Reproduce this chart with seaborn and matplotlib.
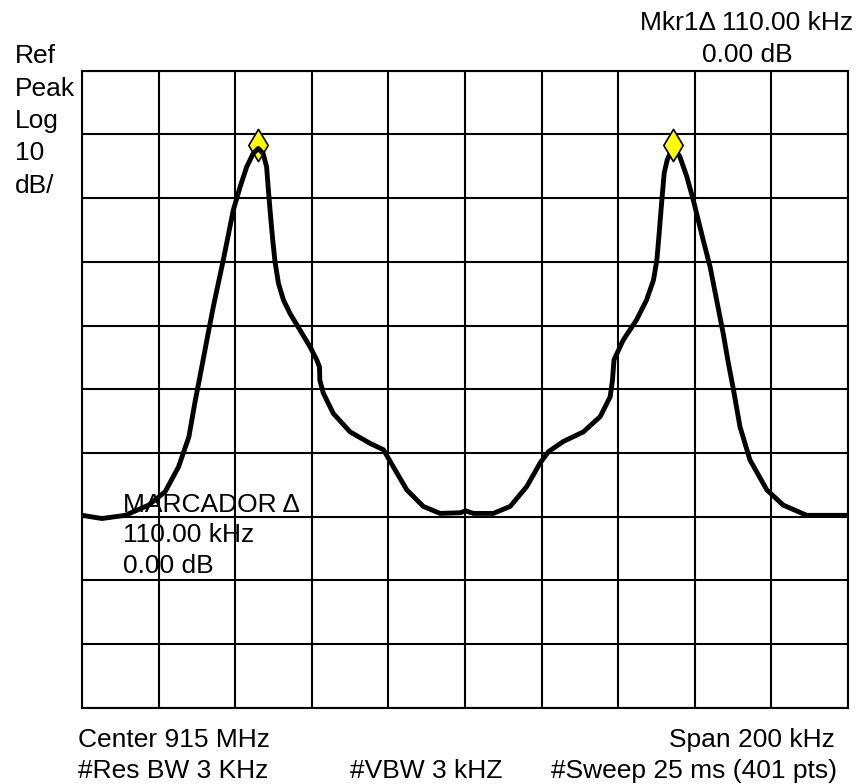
import matplotlib
matplotlib.use("Agg")
import matplotlib.pyplot as plt
import seaborn as sns
import pandas as pd

# trace: frequency offset from center (kHz) and level (dB)
freq_khz = [-100.0, -94.8, -88.7, -82.6, -78.3, -74.8, -72.1, -70.4, -69.2, -67.4,
            -65.7, -63.1, -60.5, -58.7, -57.0, -55.3, -54.0, -52.7, -51.8, -51.4,
            -50.9, -50.2, -49.6, -48.7, -47.4, -45.7, -43.1, -40.5, -38.7, -38.0,
            -37.9, -37.0, -34.4, -30.0, -24.8, -21.3, -18.7, -15.2, -10.9, -6.5,
            -1.3, 0.2, 2.2, 7.4, 11.8, 16.1, 19.6, 21.8, 25.7, 30.9,
            35.3, 37.9, 38.5, 38.9, 41.3, 44.8, 47.4, 49.2, 50.1, 50.7,
            51.4, 52.0, 52.8, 54.4, 56.1, 57.9, 59.6, 62.2, 64.0, 65.7,
            67.4, 68.7, 70.1, 71.8, 74.4, 78.8, 83.1, 89.2, 100.0]
level_db = [-69.8, -70.3, -69.8, -68.2, -66.1, -62.2, -57.5, -51.7, -48.0, -42.3,
            -37.0, -29.7, -21.9, -18.2, -15.1, -13.0, -12.2, -13.0, -15.1, -18.2,
            -21.9, -26.6, -30.0, -33.4, -36.0, -38.1, -40.7, -43.3, -45.4, -46.5,
            -48.6, -50.6, -53.8, -56.7, -58.5, -59.5, -62.2, -65.8, -68.4, -69.5,
            -69.4, -69.1, -69.5, -69.5, -68.4, -65.3, -61.6, -59.8, -58.2, -56.7,
            -54.3, -51.2, -48.6, -45.4, -42.3, -39.1, -36.0, -32.9, -29.7, -25.5,
            -20.3, -16.1, -14.0, -11.9, -13.5, -16.6, -20.3, -26.6, -30.8, -36.0,
            -41.2, -45.7, -50.1, -55.9, -61.1, -65.8, -68.2, -69.8, -69.8]

# markers (ref marker and delta marker)
mkr_freq = [-54.0, 54.4]
mkr_level = [-11.7, -11.7]

ref_lines = ["Ref", "Peak", "Log", "10", "dB/"]
mkr_readout = ["Mkr1\u0394 110.00 kHz", "0.00 dB"]
marcador_lines = ["MARCADOR \u0394", "110.00 kHz", "0.00 dB"]

sns.set_style("white")
plt.rcParams["font.family"] = ["Liberation Sans", "DejaVu Sans"]

W, H = 861, 784
fig = plt.figure(figsize=(W / 100, H / 100), dpi=100)
ax = fig.add_axes([82 / W, 1 - 707.7 / H, (848 - 82) / W, (707.7 - 70.7) / H])

df = pd.DataFrame({"freq": freq_khz, "level": level_db})

# left marker sits under the trace, right marker on top
sns.scatterplot(x=mkr_freq[:1], y=mkr_level[:1], marker="d", s=270, color="#ffff00",
                edgecolor="black", linewidth=1.2, zorder=3, ax=ax)
sns.lineplot(data=df, x="freq", y="level", sort=False, color="black", linewidth=3.5,
             solid_joinstyle="round", solid_capstyle="round", zorder=4, ax=ax)
sns.scatterplot(x=mkr_freq[1:], y=mkr_level[1:], marker="d", s=270, color="#ffff00",
                edgecolor="black", linewidth=1.2, zorder=5, ax=ax)

ax.set_xlim(-100, 100)
ax.set_ylim(-100, 0)
ax.set_xticks(range(-100, 101, 20))
ax.set_yticks(range(-100, 1, 10))
ax.set_xticklabels([])
ax.set_yticklabels([])
ax.tick_params(length=0)
ax.set_xlabel("")
ax.set_ylabel("")
ax.grid(True, color="black", linewidth=1.5)
ax.set_axisbelow(True)
for sp in ax.spines.values():
    sp.set_color("black")
    sp.set_linewidth(1.5)

fs = 19
def put(x, y, s, ha="left"):
    fig.text(x / W, 1 - y / H, s, ha=ha, va="baseline", fontsize=fs, color="black")

for i, s in enumerate(ref_lines):
    put(15, 63 + i * 32.5, s)

put(747, 30, mkr_readout[0], ha="center")
put(747, 62, mkr_readout[1], ha="center")

for i, s in enumerate(marcador_lines):
    fig.text(123 / W, 1 - (512 + i * 30.5) / H, s, ha="left", va="baseline",
             fontsize=fs, color="black", zorder=10)

put(78, 747, "Center 915 MHz")
put(835, 747, "Span 200 kHz", ha="right")
put(78, 778, "#Res BW 3 KHz")
put(350, 778, "#VBW 3 kHZ")
put(837, 778, "#Sweep 25 ms (401 pts)", ha="right")

fig.savefig("out.png", dpi=100)
